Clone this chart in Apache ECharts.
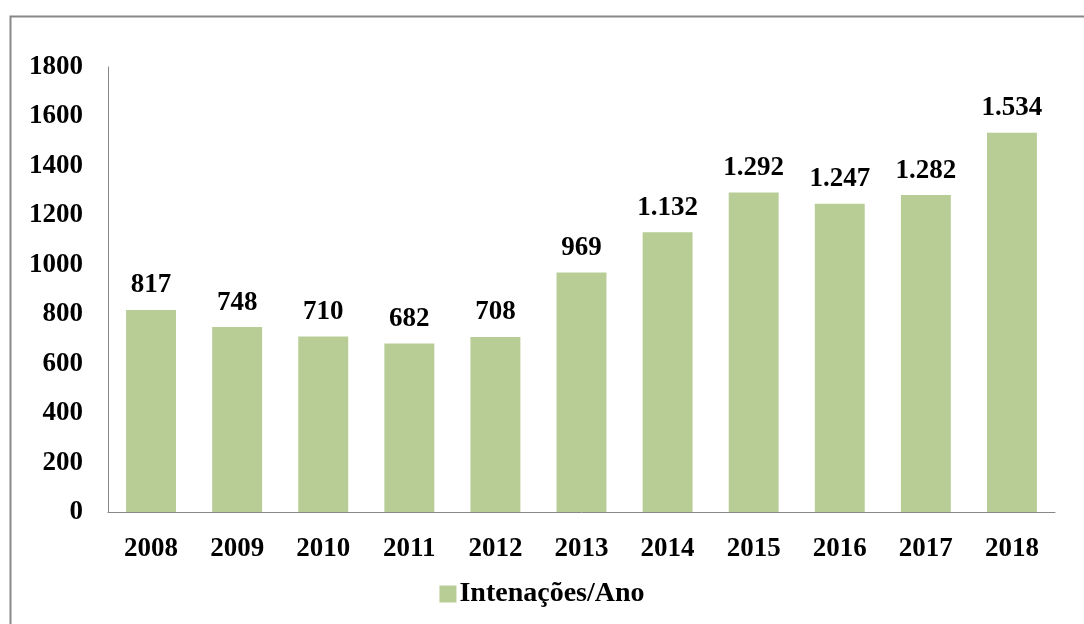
<!DOCTYPE html>
<html>
<head>
<meta charset="utf-8">
<script src="https://cdn.jsdelivr.net/npm/echarts@6/dist/echarts.min.js"></script>
<style>
html,body{margin:0;padding:0;background:#fff;}
#c{width:1084px;height:624px;}
</style>
</head>
<body>
<div id="c"></div>
<script>
const categories = ['2008','2009','2010','2011','2012','2013','2014','2015','2016','2017','2018'];
const values = [817, 748, 710, 682, 708, 969, 1132, 1292, 1247, 1282, 1534];
const seriesName = 'Intenações/Ano';
const yTicks = {min: 0, max: 1800, interval: 200};

const font = 'Liberation Serif, Times New Roman, serif';
function fmt(v){ return String(v).replace(/\B(?=(\d{3})+(?!\d))/g, '.'); }

const chart = echarts.init(document.getElementById('c'));
chart.setOption({
  animation: false,
  backgroundColor: '#fff',
  graphic: [{
    type: 'rect', left: 8, top: 14, z: -1,
    shape: {x: 0, y: 0, width: 1100, height: 640},
    style: {fill: 'none', stroke: '#888', lineWidth: 2}
  }],
  grid: {left: 108, right: 29, top: 67, bottom: 112, containLabel: false},
  legend: {
    bottom: 11, left: 'center',
    itemWidth: 17, itemHeight: 17, itemGap: 4,
    icon: 'rect',
    textStyle: {fontFamily: font, fontWeight: 'bold', fontSize: 28, color: '#000', padding: [0,0,0,-2]},
    data: [seriesName]
  },
  xAxis: {
    type: 'category', data: categories,
    axisLine: {lineStyle: {color: '#888', width: 1}},
    axisTick: {show: false},
    axisLabel: {fontFamily: font, fontWeight: 'bold', fontSize: 27, color: '#000', margin: 24}
  },
  yAxis: {
    type: 'value', min: yTicks.min, max: yTicks.max, interval: yTicks.interval,
    axisLine: {show: true, lineStyle: {color: '#888', width: 1}},
    axisTick: {show: false},
    splitLine: {show: false},
    axisLabel: {fontFamily: font, fontWeight: 'bold', fontSize: 27, color: '#000', margin: 25,
      padding: [6, 0, 0, 0],
      formatter: v => String(v)}
  },
  series: [{
    name: seriesName, type: 'bar', data: values,
    barCategoryGap: '42%',
    itemStyle: {color: '#b7cd95'},
    label: {
      show: true, position: 'top', distance: 11,
      fontFamily: font, fontWeight: 'bold', fontSize: 27, color: '#000',
      formatter: p => fmt(p.value)
    }
  }]
});
</script>
</body>
</html>
